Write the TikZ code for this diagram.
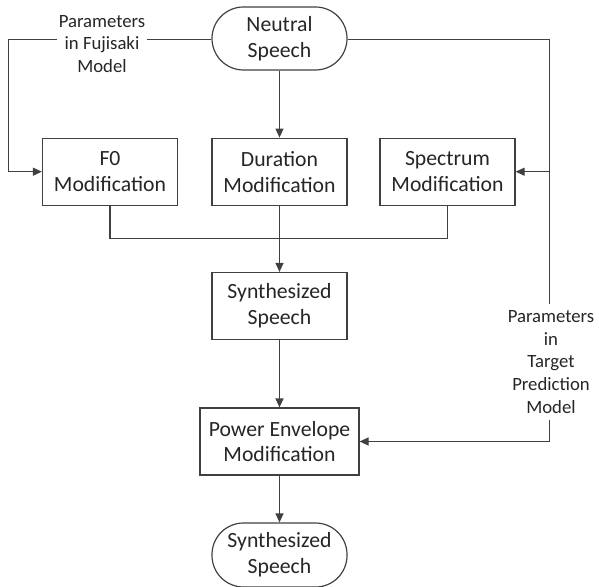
\documentclass[tikz,border=0pt]{standalone}
\usepackage{fontspec}
\setmainfont{Carlito}
\usetikzlibrary{arrows.meta}
\definecolor{lc}{HTML}{404040}
\definecolor{tc}{HTML}{262626}
\begin{document}
\begin{tikzpicture}[x=1bp,y=-1bp,
  box/.style={draw=lc,line width=1.2bp,fill=white,text=tc,align=center,
    minimum width=135bp,minimum height=67bp,inner sep=0pt,
    font=\fontsize{21.8}{26}\selectfont},
  stad/.style={box,minimum height=63bp,rounded corners=31.5bp},
  lbl/.style={text=tc,align=center,fill=white,inner xsep=2bp,inner ysep=4bp,
    font=\fontsize{18.8}{23}\selectfont},
  conn/.style={draw=lc,line width=1.2bp},
  arr/.style={conn,-{Triangle[length=9bp,width=8bp]}}]
\useasboundingbox (0,0) rectangle (599,587);
\node[stad] (ns) at (279.5,38.5) {Neutral\\Speech};
\node[box] (f0) at (110,171.7) {F0\\Modification};
\node[box] (dur) at (279.5,171.7) {Duration\\Modification};
\node[box] (spec) at (447.5,171.7) {Spectrum\\Modification};
\node[box] (syn) at (279.5,306) {Synthesized\\Speech};
\node[box,minimum width=159bp] (pe) at (279.5,441.5) {Power Envelope\\Modification};
\node[stad,minimum height=64bp] (out) at (279.5,555) {Synthesized\\Speech};
\coordinate (lc) at (8.5,39.5);
\coordinate (rc) at (549.5,39.5);
\coordinate (m) at (279.5,238.3);
% left branch
\draw[arr] (ns.west |- lc) -- (lc) -- (lc |- f0.west) -- (f0.west);
\node[lbl] (fuj) at (102,44) {Parameters\\in Fujisaki\\Model};
% right branch
\node[lbl,inner ysep=6bp] (tp) at (551,362) {Parameters\\in\\Target\\Prediction\\Model};
\draw[conn] (ns.east |- rc) -- (rc) -- (rc |- tp.north);
\draw[arr] (rc |- spec.east) -- (spec.east);
\draw[arr] (rc |- tp.south) -- (rc |- pe.east) -- (pe.east);
% main flow
\draw[arr] (ns.south) -- (dur.north);
\draw[conn] (f0.south) -- (f0.south |- m) -- (spec.south |- m) -- (spec.south);
\draw[arr] (dur.south) -- (syn.north);
\draw[arr] (syn.south) -- (pe.north);
\draw[arr] (pe.south) -- (out.north);
\end{tikzpicture}
\end{document}
